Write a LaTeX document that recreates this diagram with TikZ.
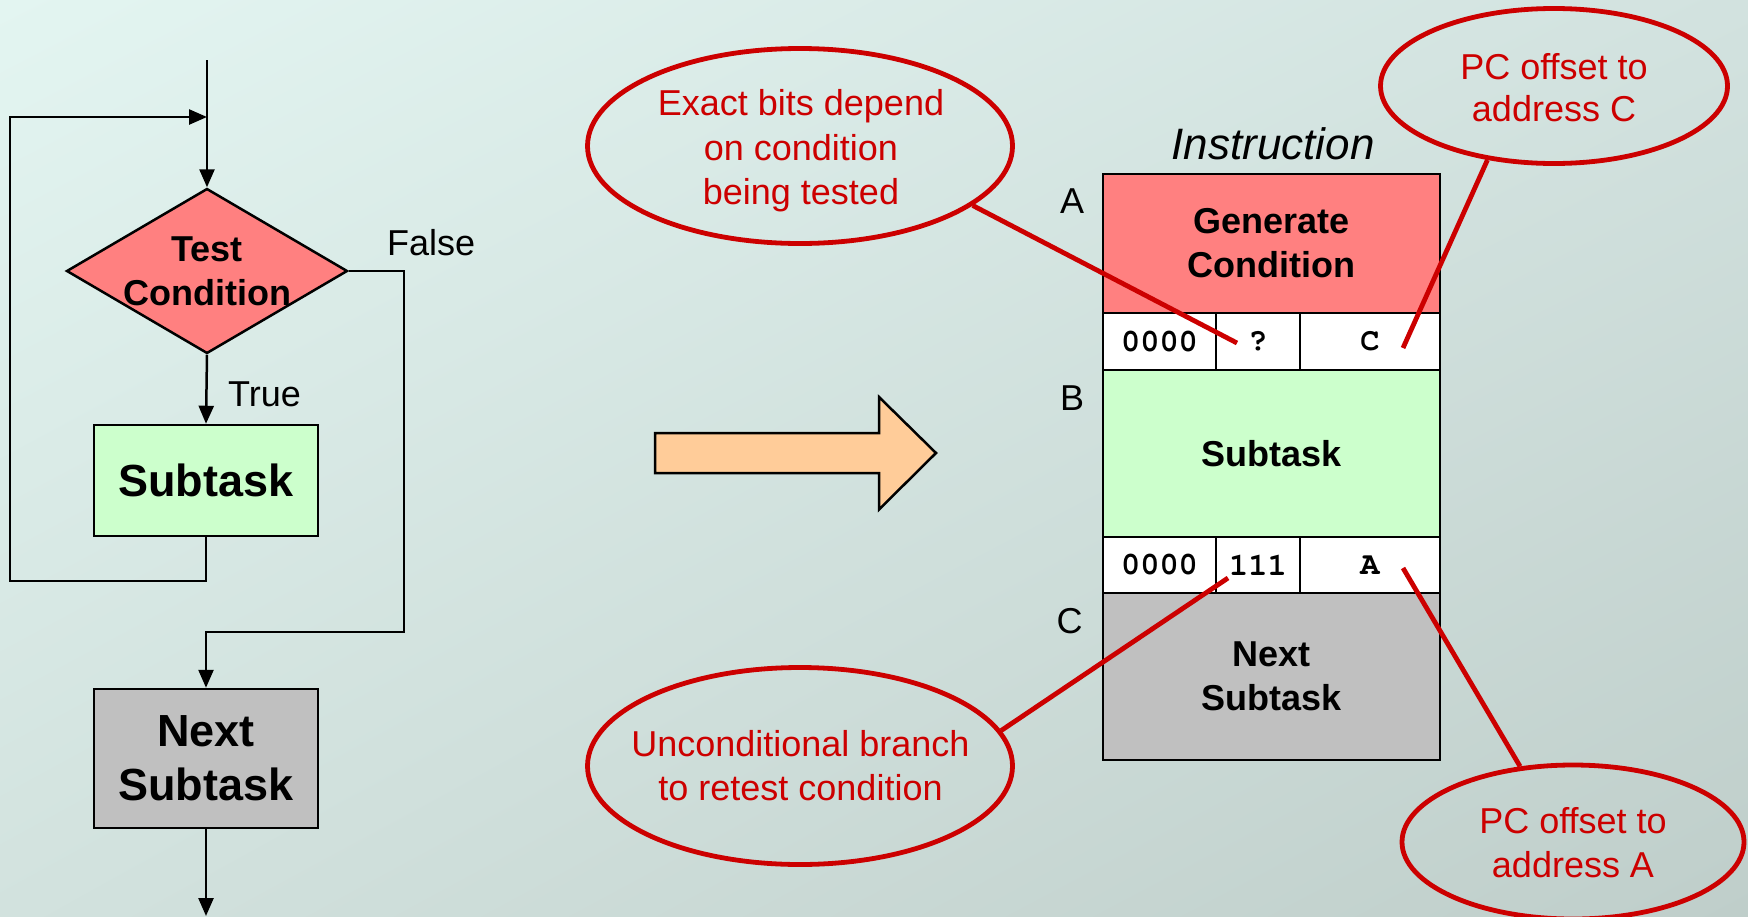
\documentclass[tikz,border=0pt]{standalone}
\usepackage{fontspec}
\setmainfont{Liberation Sans}
\newfontfamily\codefont{texgyrecursor}[Extension=.otf,UprightFont=*-regular,BoldFont=*-bold]
\usetikzlibrary{shapes.geometric,arrows.meta,shadings}

\definecolor{bgTL}{HTML}{E3F5F1}
\definecolor{bgTR}{HTML}{D2E2DF}
\definecolor{bgBL}{HTML}{D2E2DE}
\definecolor{bgBR}{HTML}{BFCECA}
\definecolor{condfill}{HTML}{FF8080}
\definecolor{taskfill}{HTML}{CCFFCC}
\definecolor{nextfill}{HTML}{C0C0C0}
\definecolor{arrowfill}{HTML}{FFCC99}
\definecolor{noteRed}{HTML}{CC0000}

\begin{document}
\begin{tikzpicture}[x=1pt,y=-1pt,
  flow/.style={draw=black,line width=2.5pt},
  arr/.style={flow,-{Triangle[length=18pt,width=15pt]}},
  box/.style={rectangle,draw=black,line width=2.5pt,inner sep=0pt,align=center},
  bigtext/.style={font=\bfseries\fontsize{45}{54}\selectfont},
  midtext/.style={font=\bfseries\fontsize{36}{44}\selectfont},
  codetext/.style={font=\codefont\bfseries\fontsize{32}{38}\selectfont},
  plain/.style={font=\fontsize{36}{44}\selectfont,inner sep=0pt},
  callout/.style={ellipse,draw=noteRed,line width=4.8pt,inner sep=0pt},
  calltext/.style={align=center,inner sep=0pt,text=noteRed,font=\fontsize{36}{44.5}\selectfont},
  redline/.style={draw=noteRed,line width=4.8pt}]

% background
\useasboundingbox (0,0) rectangle (1748,916);
\shade[upper left=bgTL,upper right=bgTR,lower left=bgBL,lower right=bgBR]
  (0,0) rectangle (1748,916);

% ---------- flowchart ----------
\node[diamond,draw=black,line width=2.5pt,fill=condfill,inner sep=0pt,
  minimum width=281pt,minimum height=165pt] (test) at (207,271) {};
\node[midtext,align=center,inner sep=0pt] (testtxt) at (test.center) {Test\\Condition};
\node[box,fill=taskfill,minimum width=224pt,minimum height=111pt,bigtext] (sub1) at (206,480.5) {Subtask};
\node[box,fill=nextfill,minimum width=224pt,minimum height=139pt,bigtext] (next1) at (206,758.5) {Next\\Subtask};

\coordinate (topin) at (207,60);
\coordinate (loopin) at (207,117);
\coordinate (lp1) at (10,581);
\coordinate (f1) at (404,632);
\coordinate (out) at (206,916);

\draw[arr] (topin) -- (test.north);
\draw[arr] (sub1.south) |- (lp1) |- (loopin);
\draw[arr] (test.south) -- (sub1.north);
\draw[arr] (test.east) -| (f1) -| (next1.north);
\draw[arr] (next1.south) -- (out);

\node[plain,anchor=base west] (falselbl) at (387,255) {False};
\node[plain,anchor=base west] (truelbl) at (228,406) {True};

% ---------- block arrow ----------
\draw[line width=2.5pt,fill=arrowfill,line join=miter]
  (655,433) -- (879,433) -- (879,397) -- (936,453) -- (879,509.5) -- (879,473) -- (655,473) -- cycle;

% ---------- instruction layout ----------
\node[font=\itshape\fontsize{44}{52}\selectfont,inner sep=0pt,anchor=base] (instr) at (1273,159) {Instruction};

\node[box,fill=condfill,minimum width=337pt,minimum height=139pt,midtext] (gen) at (1271.5,243.5) {Generate\\Condition};
\node[box,fill=white,minimum width=113pt,minimum height=57pt,codetext] (r1a) at (1159.5,341.5) {0000};
\node[box,fill=white,minimum width=84pt,minimum height=57pt,codetext] (r1b) at (1258,341.5) {?};
\node[box,fill=white,minimum width=140pt,minimum height=57pt,codetext] (r1c) at (1370,341.5) {C};
\node[box,fill=taskfill,minimum width=337pt,minimum height=167pt,midtext] (sub2) at (1271.5,453.5) {Subtask};
\node[box,fill=white,minimum width=113pt,minimum height=56pt,codetext] (r2a) at (1159.5,565) {0000};
\node[box,fill=white,minimum width=84pt,minimum height=56pt,codetext] (r2b) at (1258,565) {111};
\node[box,fill=white,minimum width=140pt,minimum height=56pt,codetext] (r2c) at (1370,565) {A};
\node[box,fill=nextfill,minimum width=337pt,minimum height=167pt,midtext] (next2) at (1271.5,676.5) {Next\\Subtask};

\node[plain,anchor=base] (lblA) at (1072,213) {A};
\node[plain,anchor=base] (lblB) at (1072,410) {B};
\node[plain,anchor=base] (lblC) at (1069.5,633) {C};

% ---------- callouts ----------
\node[callout,minimum width=425pt,minimum height=195pt] (e1) at (800,146) {};
\node[calltext] (t1) at (801,151) {Exact bits depend\\on condition\\being tested};
\node[callout,minimum width=347pt,minimum height=155pt] (e2) at (1554,86) {};
\node[calltext,font=\fontsize{36}{42.5}\selectfont] (t2) at (1554,87.5) {PC offset to\\address C};
\node[callout,minimum width=425pt,minimum height=197pt] (e3) at (800,766) {};
\node[calltext] (t3) at (800.5,765.6) {Unconditional branch\\to retest condition};
\node[callout,minimum width=342pt,minimum height=154pt] (e4) at (1573,842) {};
\node[calltext] (t4) at (1573,842.5) {PC offset to\\address A};

\coordinate (qpt) at (1237,343);
\coordinate (cpt) at (1403,348);
\coordinate (bpt) at (1228,578);
\coordinate (apt) at (1403,568);

\draw[redline] (e1.-19) -- (qpt);
\draw[redline] (e2.-132) -- (cpt);
\draw[redline] (e3.10) -- (bpt);
\draw[redline] (e4.125) -- (apt);
\end{tikzpicture}
\end{document}
